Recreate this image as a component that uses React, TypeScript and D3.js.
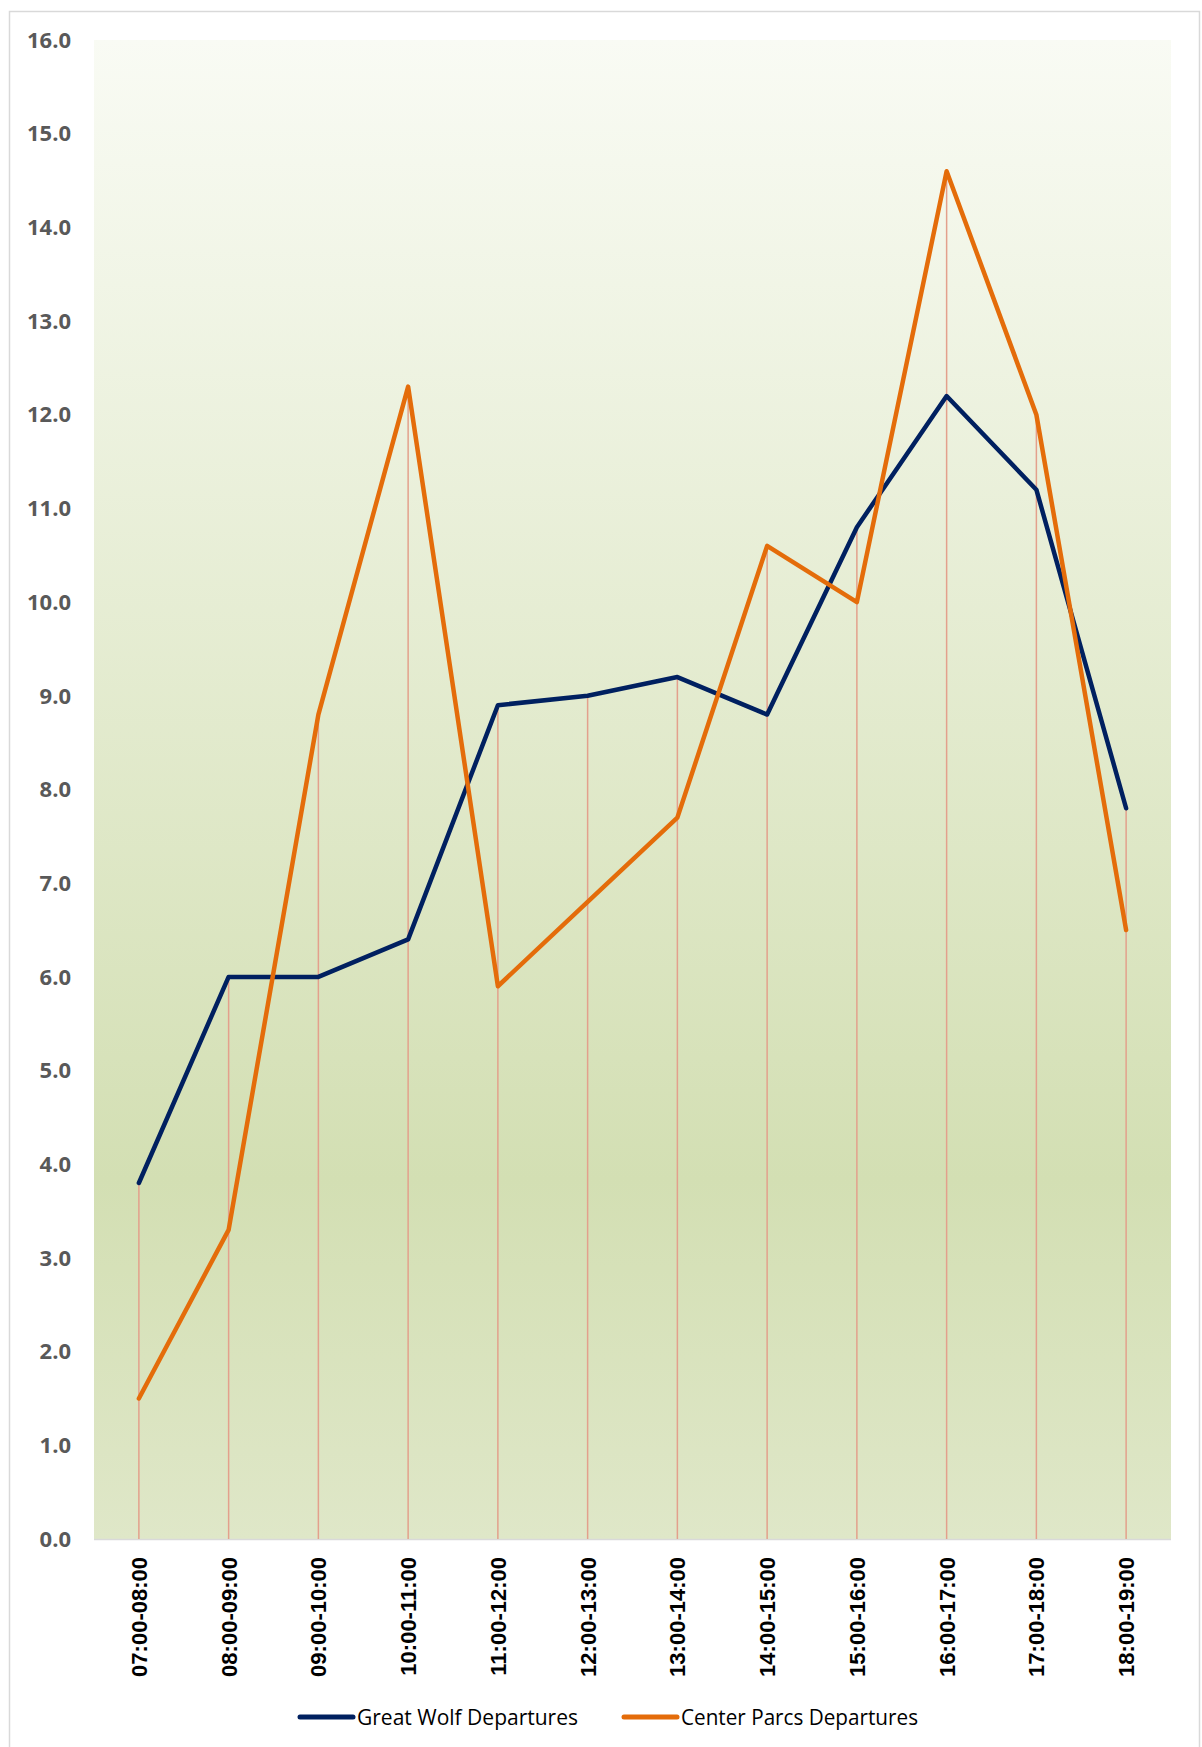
import React from "react";
import * as d3 from "d3";

const categories = ["07:00-08:00","08:00-09:00","09:00-10:00","10:00-11:00","11:00-12:00","12:00-13:00","13:00-14:00","14:00-15:00","15:00-16:00","16:00-17:00","17:00-18:00","18:00-19:00"];
const greatWolf = [3.8, 6.0, 6.0, 6.4, 8.9, 9.0, 9.2, 8.8, 10.8, 12.2, 11.2, 7.8];
const centerParcs = [1.5, 3.3, 8.8, 12.3, 5.9, 6.8, 7.7, 10.6, 10.0, 14.6, 12.0, 6.5];
const yTicks = d3.range(0, 17, 1);
const seriesNames = ["Great Wolf Departures", "Center Parcs Departures"];
const seriesColors = ["#002060", "#E46C0A"];

export default function App() {
  const W = 1202, H = 1747;
  const left = 94, right = 1171, top = 40, bottom = 1539;
  const x = d3.scaleBand<string>().domain(categories).range([left, right]);
  const y = d3.scaleLinear().domain([0, 16]).range([bottom, top]);
  const cx = (c: string) => (x(c) as number) + x.bandwidth() / 2;
  const line = d3.line<number>().x((_, i) => cx(categories[i])).y(v => y(v));
  const series = [greatWolf, centerParcs];
  const legendX = [300, 624];
  const legendTextW = [221, 237];
  return (
    <svg width={W} height={H} style={{ position: "absolute", left: 0, top: 0, background: "#fff" }}>
      <defs>
        <linearGradient id="bg" x1="0" y1="0" x2="0" y2="1">
          <stop offset="0" stopColor="#F9FBF4" />
          <stop offset="0.76" stopColor="#D3DFB3" />
          <stop offset="1" stopColor="#DFE7C8" />
        </linearGradient>
      </defs>
      <rect x={9.5} y={11.5} width={1190} height={1760} fill="#fff" stroke="#D9D9D9" strokeWidth={1.5} />
      <rect x={left} y={top} width={right - left} height={bottom - top} fill="url(#bg)" />
      <line x1={left} x2={right} y1={bottom + 0.5} y2={bottom + 0.5} stroke="#D9D9D9" strokeWidth={1.5} />
      {categories.map((c, i) => (
        <line key={c} x1={cx(c)} x2={cx(c)} y1={y(Math.max(greatWolf[i], centerParcs[i]))} y2={bottom}
          stroke="#E3A08C" strokeWidth={1.5} />
      ))}
      {yTicks.map(t => (
        <text key={t} x={71} y={y(t)} dy="0.35em" textAnchor="end" fontFamily="'Open Sans', sans-serif"
          fontWeight="bold" fontSize={22} fill="#595959">{t.toFixed(1)}</text>
      ))}
      {categories.map(c => (
        <text key={c} transform={`translate(${cx(c)},1557) rotate(-90)`} dy="0.36em" textAnchor="end"
          fontFamily="'Liberation Sans', Arial, sans-serif" fontWeight="bold" fontSize={22} fill="#000">{c}</text>
      ))}
      {series.map((s, k) => (
        <path key={k} d={line(s) as string} fill="none" stroke={seriesColors[k]} strokeWidth={4.5}
          strokeLinejoin="round" strokeLinecap="round" />
      ))}
      {seriesNames.map((n, k) => (
        <g key={n}>
          <line x1={legendX[k]} x2={legendX[k] + 53} y1={1717} y2={1717} stroke={seriesColors[k]} strokeWidth={5} strokeLinecap="round" />
          <text x={legendX[k] + 57} y={1717} dy="0.35em" fontFamily="'Open Sans', sans-serif" fontSize={22}
            fill="#000" textLength={legendTextW[k]} lengthAdjust="spacingAndGlyphs">{n}</text>
        </g>
      ))}
    </svg>
  );
}
